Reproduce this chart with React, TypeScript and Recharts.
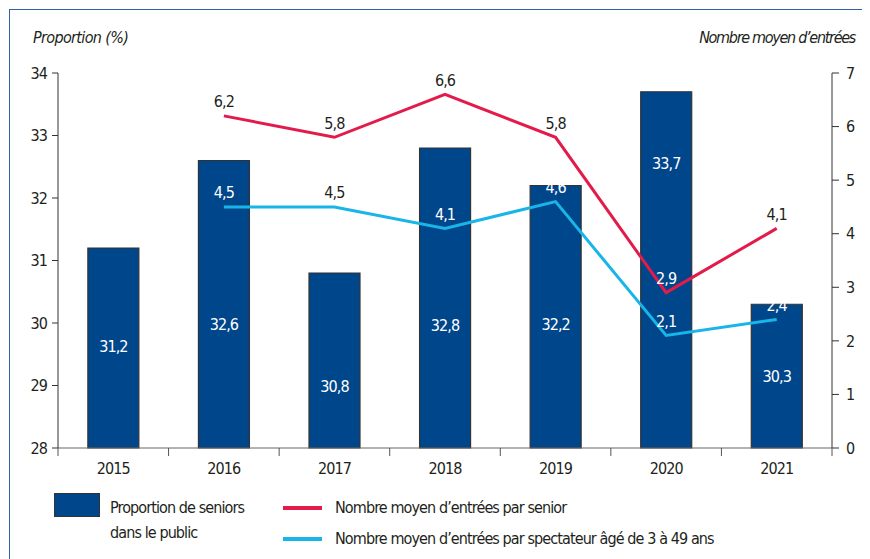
import React from "react";
import { ComposedChart, Bar, Line, XAxis, YAxis, LabelList } from "recharts";

const years = ["2015", "2016", "2017", "2018", "2019", "2020", "2021"];
const seniorShare = [31.2, 32.6, 30.8, 32.8, 32.2, 33.7, 30.3];
const seniorEntries = [null, 6.2, 5.8, 6.6, 5.8, 2.9, 4.1];
const youngEntries = [null, 4.5, 4.5, 4.1, 4.6, 2.1, 2.4];
const leftTicks = [28, 29, 30, 31, 32, 33, 34];
const rightTicks = [0, 1, 2, 3, 4, 5, 6, 7];

// label placement inside bars (fraction of bar height from its base) – styling only
const barLabelFrac = [0.51, 0.43, 0.35, 0.41, 0.47, 0.8, 0.5];

const data = years.map((year, i) => ({
  year,
  share: seniorShare[i],
  senior: seniorEntries[i],
  young: youngEntries[i],
}));

const FONT = "'Liberation Sans Narrow', 'Arial Narrow', 'DejaVu Sans Condensed', sans-serif";
const TEXT = "#231f20";
const BAR = "#00468b";
const RED = "#e31b4b";
const CYAN = "#19b5e9";
const FRAME = "#2f61a5";
const LS = "-0.9px";

const fmt = (v: number) => String(v).replace(".", ",");

const YearTick = (props: any) => {
  const { x, y, payload, index, visibleTicksCount } = props;
  const half = payload && payload.offset ? payload.offset : 0;
  const last = index === (visibleTicksCount ? visibleTicksCount - 1 : years.length - 1);
  return (
    <g>
      <line x1={x - half} x2={x - half} y1={y} y2={y + 8} stroke="#555" strokeWidth={1} />
      {last && <line x1={x + half} x2={x + half} y1={y} y2={y + 8} stroke="#555" strokeWidth={1} />}
      <text x={x} y={y + 20} textAnchor="middle" dominantBaseline="central" fill={TEXT} fontSize={16} fontFamily={FONT} style={{ letterSpacing: LS }}>
        {payload.value}
      </text>
    </g>
  );
};

const BarLabel = (props: any) => {
  const { x, y, width, height, value, index } = props;
  const f = barLabelFrac[index] ?? 0.5;
  return (
    <text x={x + width / 2} y={y + height - f * height} textAnchor="middle" dominantBaseline="central" fill="#ffffff" fontSize={16} fontFamily={FONT} style={{ letterSpacing: LS }}>
      {fmt(value)}
    </text>
  );
};

const makeLineLabel = () => (props: any) => {
  const { x, y, value, index } = props;
  if (value === null || value === undefined) return null;
  const share = seniorShare[index];
  const inside = (value + 0.22) / 7 < (share - 28) / 6;
  return (
    <text x={x} y={y - 14} textAnchor="middle" dominantBaseline="central" fill={inside ? "#ffffff" : TEXT} fontSize={16} fontFamily={FONT} style={{ letterSpacing: LS }}>
      {fmt(value)}
    </text>
  );
};

const axisTick = { fill: TEXT, fontSize: 16, fontFamily: FONT, style: { letterSpacing: LS } };

export default function App() {
  return (
    <div style={{ position: "relative", width: 862, height: 551, fontFamily: FONT, color: TEXT }}>
      <div
        style={{
          position: "absolute",
          left: 0.5,
          top: 0.5,
          right: 0,
          bottom: 0,
          borderTop: `1.5px solid ${FRAME}`,
          borderLeft: `1.5px solid ${FRAME}`,
        }}
      />
      <div style={{ position: "absolute", left: 25, top: 20, fontSize: 16, fontStyle: "italic", lineHeight: "20px", letterSpacing: "-0.65px" }}>
        Proportion (%)
      </div>
      <div style={{ position: "absolute", right: 15, top: 20, fontSize: 16, fontStyle: "italic", lineHeight: "20px", letterSpacing: "-1.3px" }}>
        Nombre moyen d’entrées
      </div>
      <ComposedChart
        width={862}
        height={551}
        data={data}
        margin={{ top: 65, right: 0, left: 0, bottom: 81 }}
        barCategoryGap="27%"
        style={{ position: "absolute", left: 0, top: 0 }}
      >
        <XAxis
          dataKey="year"
          xAxisId="cat"
          height={30}
          tickLine={false}
          tickSize={0}
          tickMargin={0}
          axisLine={{ stroke: "#666", strokeWidth: 1 }}
          tick={<YearTick />}
          interval={0}
        />
        <YAxis
          yAxisId="left"
          orientation="left"
          width={50}
          domain={[28, 34]}
          ticks={leftTicks}
          interval={0}
          tickSize={6}
          tickMargin={5}
          axisLine={{ stroke: "#333", strokeWidth: 1 }}
          tickLine={{ stroke: "#333" }}
          tick={axisTick}
        />
        <YAxis
          yAxisId="right"
          orientation="right"
          width={38}
          domain={[0, 7]}
          ticks={rightTicks}
          interval={0}
          tickSize={7}
          tickMargin={7}
          axisLine={{ stroke: "#333", strokeWidth: 1 }}
          tickLine={{ stroke: "#333" }}
          tick={axisTick}
        />
        <Bar
          dataKey="share"
          xAxisId="cat"
          yAxisId="left"
          fill={BAR}
          stroke="#333"
          strokeWidth={1.2}
          isAnimationActive={false}
        >
          <LabelList dataKey="share" content={<BarLabel />} />
        </Bar>
        <Line
          dataKey="senior"
          xAxisId="cat"
          yAxisId="right"
          stroke={RED}
          strokeWidth={3}
          dot={false}
          activeDot={false}
          isAnimationActive={false}
          connectNulls={false}
        >
          <LabelList dataKey="senior" content={makeLineLabel()} />
        </Line>
        <Line
          dataKey="young"
          xAxisId="cat"
          yAxisId="right"
          stroke={CYAN}
          strokeWidth={3}
          dot={false}
          activeDot={false}
          isAnimationActive={false}
          connectNulls={false}
        >
          <LabelList dataKey="young" content={makeLineLabel()} />
        </Line>
      </ComposedChart>
      <div
        style={{
          position: "absolute",
          left: 46,
          top: 485,
          width: 44,
          height: 22,
          background: BAR,
          border: "1.2px solid #333",
        }}
      />
      <div style={{ position: "absolute", left: 102, top: 487, fontSize: 16, lineHeight: "25px", letterSpacing: LS }}>
        Proportion de seniors
        <br />
        dans le public
      </div>
      <div style={{ position: "absolute", left: 275, top: 498, width: 39, height: 4, background: RED }} />
      <div style={{ position: "absolute", left: 327, top: 487, fontSize: 16, lineHeight: "25px", whiteSpace: "nowrap", letterSpacing: LS }}>
        Nombre moyen d’entrées par senior
      </div>
      <div style={{ position: "absolute", left: 275, top: 529, width: 39, height: 4, background: CYAN }} />
      <div style={{ position: "absolute", left: 327, top: 518, fontSize: 16, lineHeight: "25px", whiteSpace: "nowrap", letterSpacing: LS }}>
        Nombre moyen d’entrées par spectateur âgé de 3 à 49 ans
      </div>
    </div>
  );
}
